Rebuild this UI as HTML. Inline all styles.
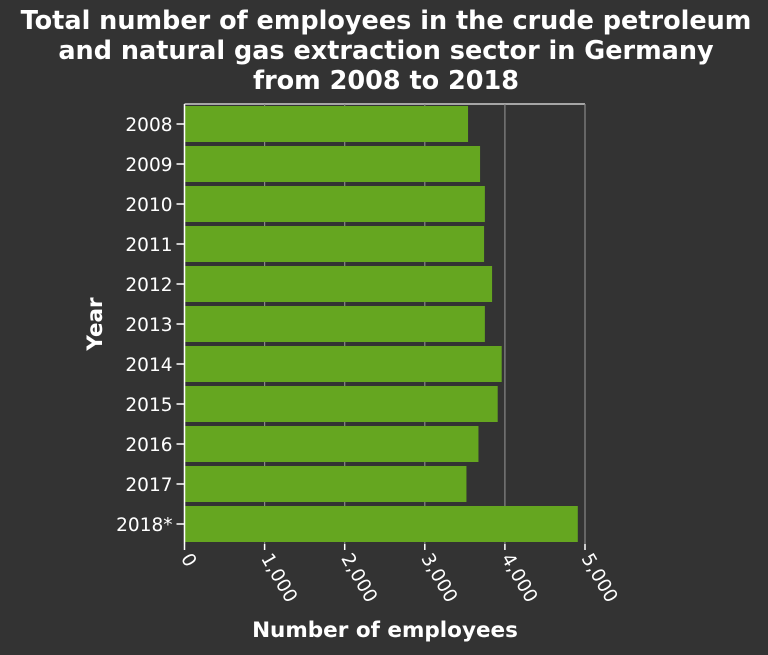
<!DOCTYPE html>
<html><head><meta charset="utf-8"><style>
body{margin:0;background:#333;}
svg text{font-family:"DejaVu Sans","Liberation Sans",sans-serif;fill:#fff;}
</style></head><body>
<svg width="768" height="650" xmlns="http://www.w3.org/2000/svg">
<rect width="768" height="650" fill="#333333"/>
<g font-weight="bold" font-size="25.5" text-anchor="middle">
<text x="386" y="29">Total number of employees in the crude petroleum</text>
<text x="386" y="59">and natural gas extraction sector in Germany</text>
<text x="386" y="89">from 2008 to 2018</text>
</g>
<g id="grid"></g><g id="bars"></g><g id="axes"></g>
<text x="385" y="637" text-anchor="middle" font-size="21.5" font-weight="bold">Number of employees</text>
<text transform="translate(102,324) rotate(-90)" text-anchor="middle" font-size="21.5" font-weight="bold">Year</text>
</svg>
<script>
const categories=["2008","2009","2010","2011","2012","2013","2014","2015","2016","2017","2018*"];
const values=[3540,3690,3750,3740,3840,3750,3960,3910,3670,3520,4910];
const ticks=[0,1000,2000,3000,4000,5000];
const tickLabels=["0","1,000","2,000","3,000","4,000","5,000"];
const NS="http://www.w3.org/2000/svg";
const x0=184.5,x1=585,y0=104,band=40;
const xs=v=>x0+(v/5000)*(x1-x0);
const ys=i=>y0+i*band;
function mk(t,a,p){const e=document.createElementNS(NS,t);for(const k in a)e.setAttribute(k,a[k]);p.appendChild(e);return e;}
const grid=document.getElementById('grid'),bars=document.getElementById('bars'),axes=document.getElementById('axes');
mk('line',{x1:x0,x2:x1,y1:y0,y2:y0,stroke:'#ccc','stroke-width':1.5},grid);
ticks.forEach((t,i)=>{
 const l=mk('line',{x1:xs(t),x2:xs(t),y1:y0,y2:y0+11*band,stroke:'#888','stroke-width':1.2},grid);
 
 
 mk('line',{x1:xs(t),x2:xs(t),y1:y0+11*band,y2:y0+11*band+6,stroke:'#fff','stroke-width':1.5},axes);
 const tx=mk('text',{x:0,y:0,'font-size':18.5,transform:`translate(${xs(t)-4},${y0+11*band+14}) rotate(60)`},axes);
 tx.textContent=tickLabels[i];
 
 
});
categories.forEach((c,i)=>{
 const r=mk('rect',{x:x0,y:ys(i)+2,width:xs(values[i])-x0,height:36,fill:'#65a620'},bars);
 
 
 mk('line',{x1:x0-8,x2:x0,y1:ys(i)+20,y2:ys(i)+20,stroke:'#fff','stroke-width':1.5},axes);
 const t=mk('text',{x:x0-12,y:ys(i)+27,'font-size':18.5,'text-anchor':'end'},axes);
 t.textContent=c;
 
 
});
mk('line',{x1:x0,x2:x0,y1:y0,y2:y0+11*band,stroke:'#fff','stroke-width':1.5},axes);
</script>
</body></html>
